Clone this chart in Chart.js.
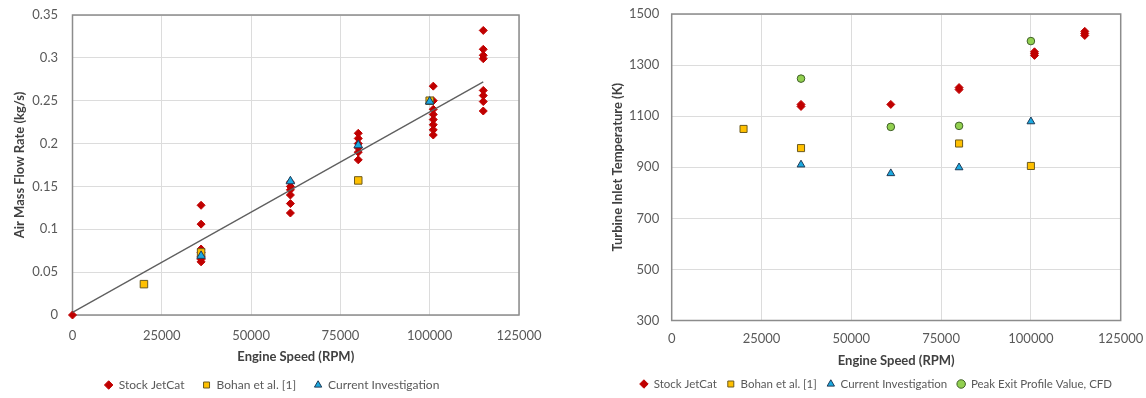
<!DOCTYPE html>
<html>
<head>
<meta charset="utf-8">
<script src="https://cdn.jsdelivr.net/npm/chart.js@4/dist/chart.umd.min.js"></script>
<style>
  html, body { margin: 0; padding: 0; background: #fff; width: 1146px; height: 398px; overflow: hidden; }
  #flowChart { position: absolute; left: 0; top: 0; }
  #tempChart { position: absolute; left: 560px; top: 0; }
</style>
</head>
<body>
<canvas id="flowChart" width="560" height="407"></canvas>
<canvas id="tempChart" width="586" height="402"></canvas>
<script>
// ---- tick labels ----
const rpmTicks  = ['0', '25000', '50000', '75000', '100000', '125000'];
const flowTicks = ['0', '0.05', '0.1', '0.15', '0.2', '0.25', '0.3', '0.35'];
const tempTicks = ['300', '500', '700', '900', '1100', '1300', '1500'];

// ---- air mass flow rate (kg/s) vs engine speed (RPM) ----
const jetcatFlowRpm = [0,
  36000, 36000, 36000, 36000, 36000, 36000, 36000,
  61000, 61000, 61000, 61000, 61000, 61000,
  80000, 80000, 80000, 80000, 80000, 80000,
  101000, 101000, 101000, 101000, 101000, 101000, 101000, 101000,
  115000, 115000, 115000, 115000, 115000, 115000, 115000, 115000];
const jetcatFlow = [0,
  0.128, 0.106, 0.077, 0.073, 0.068, 0.065, 0.062,
  0.155, 0.150, 0.146, 0.140, 0.130, 0.119,
  0.212, 0.206, 0.200, 0.195, 0.190, 0.181,
  0.267, 0.250, 0.240, 0.234, 0.228, 0.222, 0.216, 0.210,
  0.332, 0.310, 0.303, 0.299, 0.262, 0.256, 0.249, 0.238];
const bohanFlowRpm = [20000, 36000, 80000, 100000];
const bohanFlow    = [0.036, 0.073, 0.157, 0.250];
const currentFlowRpm = [36000, 61000, 80000, 100000];
const currentFlow    = [0.069, 0.156, 0.198, 0.249];
const trendRpm  = [0, 115000];
const trendFlow = [0.003, 0.272];

// ---- turbine inlet temperature (K) vs engine speed (RPM) ----
const jetcatTempRpm = [36000, 36000, 61000, 80000, 80000, 101000, 101000, 101000, 115000, 115000, 115000];
const jetcatTemp    = [1138, 1146, 1146, 1204, 1212, 1338, 1345, 1352, 1416, 1424, 1432];
const bohanTempRpm = [20000, 36000, 80000, 100000];
const bohanTemp    = [1050, 975, 993, 905];
const currentTempRpm = [36000, 61000, 80000, 100000];
const currentTemp    = [910, 876, 899, 1079];
const cfdTempRpm = [36000, 61000, 80000, 100000];
const cfdTemp    = [1247, 1058, 1062, 1394];

const pts = (xs, ys) => xs.map((x, i) => ({ x, y: ys[i] }));

Chart.defaults.font.family = 'Lato, "Liberation Sans", sans-serif';
Chart.defaults.color = '#595959';

const RED = '#c00000', GOLD = '#ffc000', BLUE = '#1ba9e0', GREEN = '#92d050';

// grey frame round the plotting area
const framePlugin = {
  id: 'frame',
  beforeDatasetsDraw(chart) {
    const { ctx, chartArea: a } = chart;
    ctx.save();
    ctx.strokeStyle = '#8c8c8c';
    ctx.lineWidth = 1.5;
    ctx.strokeRect(a.left, a.top, a.right - a.left, a.bottom - a.top);
    ctx.restore();
  }
};

// puts the legend row at a chosen centre and text line
const legendPlace = {
  id: 'legendPlace',
  afterLayout(chart, args, opts) {
    const lg = chart.legend;
    if (!lg) return;
    const dx = opts.centerX - (lg.left + lg.right) / 2;
    lg.left += dx; lg.right += dx;
    const dy = opts.textY - (lg.top + opts.pad + opts.size / 2);
    lg.top += dy; lg.bottom += dy;
  }
};

function makeChart(id, cfg) {
  return new Chart(document.getElementById(id), {
    type: 'scatter',
    data: { datasets: cfg.datasets },
    options: {
      responsive: false,
      animation: false,
      events: [],
      layout: { padding: cfg.padding },
      plugins: {
        tooltip: { enabled: false },
        legend: {
          position: 'bottom',
          labels: {
            usePointStyle: true,
            boxWidth: 8,
            boxHeight: 6,
            padding: cfg.legendPad,
            color: '#595959',
            font: { size: cfg.legendFont },
            filter: (item, data) => !data.datasets[item.datasetIndex].noLegend,
            sort: (a, b) => a.datasetIndex - b.datasetIndex
          }
        },
        legendPlace: { centerX: cfg.legendX, textY: cfg.legendY, pad: cfg.legendPad, size: cfg.legendFont }
      },
      scales: {
        x: {
          type: 'linear',
          min: 0, max: 125000,
          afterFit: s => { s.height = cfg.xHeight; s.paddingLeft = 0; s.paddingRight = 0; },
          ticks: {
            stepSize: 25000,
            autoSkip: false,
            maxRotation: 0,
            padding: cfg.xTickPad,
            color: '#595959',
            font: { size: 13 },
            callback: (v, i) => rpmTicks[i]
          },
          grid: { color: '#dcdcdc', drawTicks: false },
          border: { display: false },
          title: {
            display: true,
            text: 'Engine Speed (RPM)',
            color: '#404040',
            font: { size: 13, weight: 'bold' },
            padding: { top: 0, bottom: 2 }
          }
        },
        y: {
          type: 'linear',
          min: cfg.yMin, max: cfg.yMax,
          afterFit: s => { s.width = cfg.yWidth; s.paddingTop = 0; s.paddingBottom = 0; },
          ticks: {
            stepSize: cfg.yStep,
            autoSkip: false,
            padding: cfg.yTickPad,
            color: '#595959',
            font: { size: 13 },
            callback: (v, i) => cfg.yTicks[i]
          },
          grid: { color: '#dcdcdc', drawTicks: false },
          border: { display: false },
          title: {
            display: true,
            text: cfg.yTitle,
            color: '#404040',
            font: { size: 13, weight: 'bold' },
            padding: { top: cfg.yTitlePad, bottom: 0 }
          }
        }
      }
    },
    plugins: [framePlugin, legendPlace]
  });
}

// left panel: air mass flow rate
makeChart('flowChart', {
  padding: { top: 15, right: 41, left: 0, bottom: 0 },
  xHeight: 52, xTickPad: 13,
  yWidth: 72.5, yTickPad: 14.5, yTitlePad: 12,
  yMin: 0, yMax: 0.35, yStep: 0.05, yTicks: flowTicks,
  yTitle: 'Air Mass Flow Rate (kg/s)',
  legendX: 272, legendY: 385, legendPad: 18, legendFont: 12,
  datasets: [
    { label: 'Stock JetCat', data: pts(jetcatFlowRpm, jetcatFlow), order: 3, clip: false,
      pointStyle: 'rectRot', pointRadius: 4, backgroundColor: RED, borderColor: RED, borderWidth: 1 },
    { label: 'Bohan et al. [1]', data: pts(bohanFlowRpm, bohanFlow), order: 2, clip: false,
      pointStyle: 'rect', pointRadius: 5.3, backgroundColor: GOLD, borderColor: '#6b5a1e', borderWidth: 1 },
    { label: 'Current Investigation', data: pts(currentFlowRpm, currentFlow), order: 1, clip: false,
      pointStyle: 'triangle', pointRadius: 5, backgroundColor: BLUE, borderColor: '#1f3b57', borderWidth: 1 },
    { label: 'Linear fit', noLegend: true, data: pts(trendRpm, trendFlow), order: 0, clip: false,
      showLine: true, pointRadius: 0, borderColor: '#5f5f5f', borderWidth: 1.3, fill: false }
  ]
});

// right panel: turbine inlet temperature
makeChart('tempChart', {
  padding: { top: 14, right: 25.3, left: 0, bottom: 0 },
  xHeight: 50, xTickPad: 11,
  yWidth: 111.7, yTickPad: 12.5, yTitlePad: 50,
  yMin: 300, yMax: 1500, yStep: 200, yTicks: tempTicks,
  yTitle: 'Turbine Inlet Temperature (K)',
  legendX: 316, legendY: 384, legendPad: 10, legendFont: 11.5,
  datasets: [
    { label: 'Stock JetCat', data: pts(jetcatTempRpm, jetcatTemp), order: 4, clip: false,
      pointStyle: 'rectRot', pointRadius: 4, backgroundColor: RED, borderColor: RED, borderWidth: 1 },
    { label: 'Bohan et al. [1]', data: pts(bohanTempRpm, bohanTemp), order: 3, clip: false,
      pointStyle: 'rect', pointRadius: 5, backgroundColor: GOLD, borderColor: '#6b5a1e', borderWidth: 1 },
    { label: 'Current Investigation', data: pts(currentTempRpm, currentTemp), order: 2, clip: false,
      pointStyle: 'triangle', pointRadius: 4.5, backgroundColor: BLUE, borderColor: '#1f3b57', borderWidth: 1 },
    { label: 'Peak Exit Profile Value, CFD', data: pts(cfdTempRpm, cfdTemp), order: 1, clip: false,
      pointStyle: 'circle', pointRadius: 3.8, backgroundColor: GREEN, borderColor: '#3f5f28', borderWidth: 1 }
  ]
});
</script>
</body>
</html>
